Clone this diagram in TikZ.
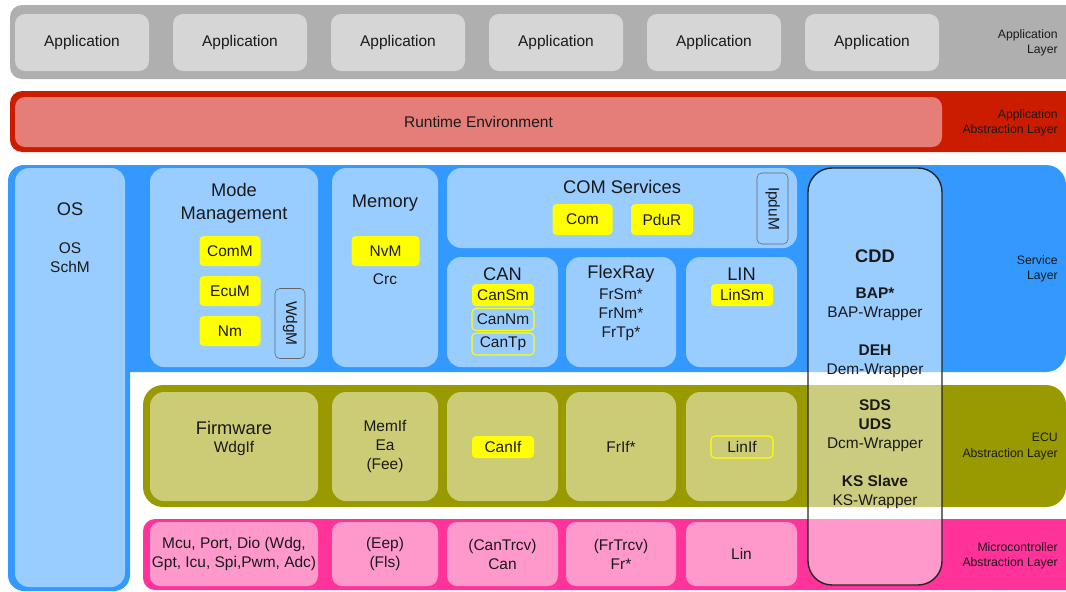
\documentclass[tikz,border=0pt]{standalone}
\usepackage{fontspec}
\setmainfont{Liberation Sans}
\usetikzlibrary{positioning}

\definecolor{appband}{HTML}{AFAFAF}
\definecolor{appin}{HTML}{D6D6D6}
\definecolor{rteband}{HTML}{CC1C00}
\definecolor{rtein}{HTML}{E57E79}
\definecolor{srvband}{HTML}{3399FF}
\definecolor{srvin}{HTML}{99CCFF}
\definecolor{ecuband}{HTML}{999900}
\definecolor{ecuin}{HTML}{CCCC77}
\definecolor{mcband}{HTML}{FF3399}
\definecolor{mcin}{HTML}{FF99CC}
\definecolor{ink}{HTML}{1A1A1A}
\definecolor{modyel}{HTML}{FFFF00}

\begin{document}
\begin{tikzpicture}[
    x=0.025cm, y=-0.025cm,
    every node/.style={font=\fontsize{11}{13.5}\selectfont, text=ink, align=center},
    sz/.style 2 args={minimum width=#1*0.025cm, minimum height=#2*0.025cm, inner sep=0pt},
    blk/.style={rounded corners=0.35cm, inner sep=0pt},
    appbox/.style={blk, rounded corners=0.25cm, fill=appin, sz={134}{57}},
    srvbox/.style={blk, fill=srvin},
    ecubox/.style={blk, fill=ecuin},
    mcbox/.style={blk, fill=mcin, rounded corners=0.25cm},
    title/.style={font=\fontsize{13}{16}\selectfont},
    yel/.style={fill=modyel, rounded corners=0.1cm, inner sep=0pt},
    yelline/.style={draw=modyel, line width=0.8pt, rounded corners=0.1cm, inner sep=0pt},
    vert/.style={draw=black!60, rounded corners=0.12cm, fill=srvin, rotate=-90, inner sep=0pt},
    laylabel/.style={anchor=east, align=right, inner sep=0pt, font=\fontsize{8.7}{10.7}\selectfont}]

    \useasboundingbox (0,0) rectangle (1066,592);
    \clip (0,0) rectangle (1066,592);

    % layers
    \fill[appband, rounded corners=0.3cm] (10,5) rectangle (1100,79);
    \fill[rteband, rounded corners=0.3cm] (10,91) rectangle (1100,152);
    \fill[srvband, rounded corners=0.5cm] (10,165) rectangle (1066,372);
    \fill[srvband, rounded corners=0.4cm] (8,165) rectangle (130,591);
    \fill[ecuband, rounded corners=0.5cm] (143,385) rectangle (1066,507);
    \fill[mcband, rounded corners=0.3cm] (143,519) rectangle (1100,590);

    % application layer
    \foreach \i in {0,...,5}
        \node[appbox] (app\i) at (82+158*\i,42.5) {Application};
    \node[laylabel] (lab-app) at (1058,42.5) {Application\\Layer};

    % rte
    \node[blk, rounded corners=0.25cm, fill=rtein, sz={927}{50}] (rte) at (478.5,122) {Runtime Environment};
    \node[laylabel] (lab-rte) at (1058,122.5) {Application\\Abstraction Layer};

    % service layer
    \node[srvbox, sz={110}{419}] (os) at (70,377.5) {};
    \node[title] (os-t) at (70,209) {OS};
    \node (os-m) at (70,257.5) {OS\\SchM};

    \node[srvbox, sz={168}{199}] (mode) at (234,267.5) {};
    \node[title] (mode-t) at (234,203.5) {Mode\\Management};
    \node[yel, sz={61}{30}] (comm) at (230,251) {ComM};
    \node[yel, sz={61}{30}] (ecum) at (230,291) {EcuM};
    \node[yel, sz={61}{30}] (nm) at (230,331) {Nm};
    \node[vert, sz={70}{30}] (wdgm) at (290,323.5) {WdgM};

    \node[srvbox, sz={106}{199}] (mem) at (385,267.5) {};
    \node[title] (mem-t) at (385,203) {Memory};
    \node[yel, sz={68}{30}] (nvm) at (385.5,251) {NvM};
    \node (crc) at (385,279) {Crc};

    \node[srvbox, sz={350}{80}] (com) at (622,208) {};
    \node[title] (com-t) at (622,187) {COM Services};
    \node[yel, sz={60}{31}] (comy) at (582.5,219.5) {Com};
    \node[yel, sz={62}{31}] (pdur) at (662,219.5) {PduR};
    \node[vert, sz={71}{31}] (ipdum) at (772.5,208.5) {IpduM};

    \node[srvbox, sz={111}{110}] (can) at (502.5,312) {};
    \node[title] (can-t) at (502.5,274) {CAN};
    \node[yel, sz={62}{22}] (cansm) at (503,295) {CanSm};
    \node[yelline, sz={62}{22}] (cannm) at (503,319.5) {CanNm};
    \node[yelline, sz={62}{22}] (cantp) at (503,344) {CanTp};

    \node[srvbox, sz={110}{110}] (fr) at (621,312) {};
    \node[title] (fr-t) at (621,274) {FlexRay};
    \node (fr-m) at (621,314.5) {FrSm*\\FrNm*\\FrTp*};

    \node[srvbox, sz={111}{110}] (lin) at (741.5,312) {};
    \node[title] (lin-t) at (741.5,274) {LIN};
    \node[yel, sz={62}{22}] (linsm) at (742,295) {LinSm};

    \node[laylabel] (lab-srv) at (1058,268.5) {Service\\Layer};

    % ecu abstraction layer
    \node[ecubox, sz={168}{109}] (fw) at (234,446.5) {};
    \node[title] (fw-t) at (234,428) {Firmware};
    \node (wdgif) at (234,448) {WdgIf};
    \node[ecubox, sz={106}{109}] (memif) at (385,446.5) {MemIf\\Ea\\(Fee)};
    \node[ecubox, sz={111}{109}] (canifb) at (502.5,446.5) {};
    \node[yel, sz={62}{22}] (canif) at (503,447) {CanIf};
    \node[ecubox, sz={110}{109}] (frif) at (621,446.5) {FrIf*};
    \node[ecubox, sz={111}{109}] (linifb) at (741.5,446.5) {};
    \node[yelline, sz={62}{22}] (linif) at (742,447) {LinIf};
    \node[laylabel] (lab-ecu) at (1058,446.5) {ECU\\Abstraction Layer};

    % microcontroller abstraction layer
    \node[mcbox, sz={168}{64}] (mcu) at (234,554) {Mcu, Port, Dio (Wdg,\\Gpt, Icu, Spi,Pwm, Adc)};
    \node[mcbox, sz={106}{64}] (eep) at (385,554) {(Eep)\\(Fls)};
    \node[mcbox, sz={111}{64}] (cantrcv) at (502.5,554) {(CanTrcv)\\Can};
    \node[mcbox, sz={110}{64}] (frtrcv) at (621,554) {(FrTrcv)\\Fr*};
    \node[mcbox, sz={111}{64}] (linmc) at (741.5,554) {Lin};
    \node[laylabel] (lab-mc) at (1058,555.5) {Microcontroller\\Abstraction Layer};

    % cdd
    \node[blk, draw=black!85, line width=1pt, fill=white, fill opacity=0.5, text opacity=1,
        rounded corners=0.6cm, sz={134}{417}] (cdd) at (875,376.5) {};
    \node[title, font=\fontsize{13}{16}\selectfont\bfseries] (cdd-t) at (875,256) {CDD};
    \node (bap) at (875,304.5) {\textbf{BAP*}\\BAP-Wrapper};
    \node (deh) at (875,361) {\textbf{DEH}\\Dem-Wrapper};
    \node (sds) at (875,426) {\textbf{SDS}\\\textbf{UDS}\\Dcm-Wrapper};
    \node (ks) at (875,492) {\textbf{KS Slave}\\KS-Wrapper};
\end{tikzpicture}
\end{document}
